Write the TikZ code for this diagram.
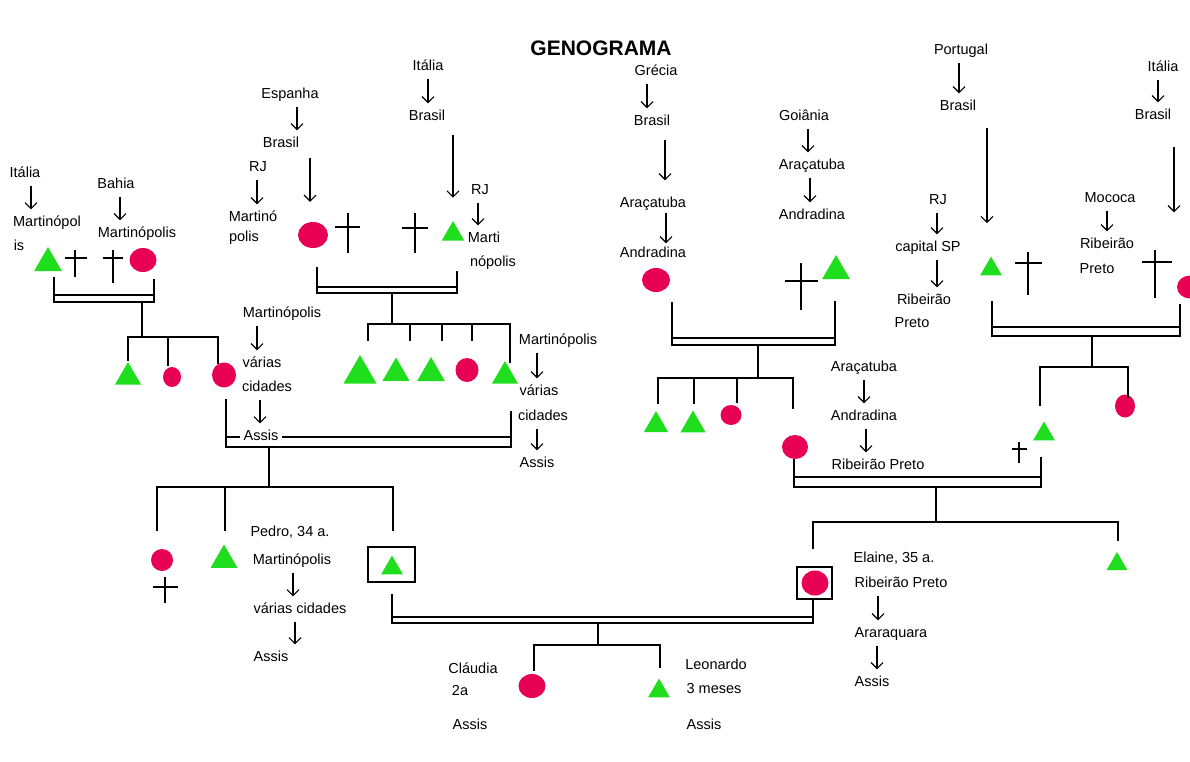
\documentclass[tikz,border=0pt]{standalone}
\usepackage{fontspec}
\setmainfont{Liberation Sans}
\usetikzlibrary{shapes.geometric,arrows.meta}
\definecolor{gr}{RGB}{30,222,30}
\definecolor{rd}{RGB}{232,0,85}
\newcommand\lblfont{\fontsize{14.5}{17}\selectfont}
\newcommand\arrv[4][]{\draw[arr,#1] ([xshift=#4]#2.south) -- ([xshift=#4]#2.south |- #3.north);}
\newcommand\gcross[6]{\draw[crossln] (#1,#2) -- (#1,#3) (#4,#6) -- (#5,#6);}
\begin{document}
\begin{tikzpicture}[x=1pt,y=-1pt,
  ln/.style={line width=1.6pt, line cap=rect},
  arr/.style={line width=1.1pt, -{Straight Barb[length=6pt,width=12pt]}, shorten <=4pt, shorten >=4pt},
  lbl/.style={font=\lblfont, inner sep=1.5pt, text height=11pt, text depth=3pt},
  lblw/.style={lbl, fill=white, inner xsep=4pt},
  circ/.style={ellipse, fill=rd, draw=none, inner sep=0pt},
  tri/.style={regular polygon, regular polygon sides=3, fill=gr, draw=none, inner sep=0pt, minimum size=#1},
  framebox/.style={draw, line width=1.4pt, inner sep=0pt},
  crossln/.style={line width=1.3pt}]
\useasboundingbox (0,0) rectangle (1190,761);
\clip (0,0) rectangle (1190,761);

% ---------- title
\node[font=\fontsize{21}{24}\selectfont\bfseries] (title) at (601,48) {GENOGRAMA};

% ---------- persons
\node[tri=32] (t1) at (48,263) {};
\node[circ, minimum width=27, minimum height=24] (c1) at (143,260) {};
\node[tri=30] (t2) at (128,377) {};
\node[circ, minimum width=18, minimum height=20] (c2) at (172,377) {};
\node[circ, minimum width=24, minimum height=25] (c3) at (224,375) {};
\node[circ, minimum width=30, minimum height=26] (c4) at (313,235) {};
\node[tri=26] (t7) at (453,234) {};
\node[tri=38] (t3) at (360,374) {};
\node[tri=31] (t4) at (396,373) {};
\node[tri=32] (t5) at (431,373) {};
\node[circ, minimum width=23, minimum height=24] (c5) at (467,370) {};
\node[tri=30] (t6) at (505,376) {};
\node[circ, minimum width=22, minimum height=22] (c6) at (162,560) {};
\node[tri=31] (t11) at (224,560) {};
\node[tri=25] (t12) at (392,568) {};
\node[framebox, minimum width=47, minimum height=35] (b1) at (391.5,564.5) {};
\node[circ, minimum width=27, minimum height=24] (c7) at (532,686) {};
\node[tri=25] (t13) at (659,691) {};
\node[circ, minimum width=27, minimum height=25] (c8) at (815,583) {};
\node[framebox, minimum width=35, minimum height=32] (b2) at (814.5,583) {};
\node[tri=24] (t14) at (1117,564) {};
\node[circ, minimum width=28, minimum height=24] (c9) at (656,280) {};
\node[tri=32] (t8) at (836,271) {};
\node[tri=28] (t9) at (656,425) {};
\node[tri=29] (t10) at (693,425) {};
\node[circ, minimum width=21, minimum height=20] (c10) at (731,415) {};
\node[circ, minimum width=26, minimum height=24] (c11) at (795,447) {};
\node[tri=25] (t15) at (991,269) {};
\node[circ, minimum width=20, minimum height=23] (c12) at (1125,406) {};
\node[circ, minimum width=26, minimum height=23] (c13) at (1190,287) {};
\node[tri=25] (t16) at (1044,434) {};

% ---------- family lines
% family A
\draw[ln] (54,278) -- (54,302) -- (154,302) -- (154,280);
\draw[ln] (54,295) -- (154,295);
\draw[ln] (142,302) -- (142,337);
\draw[ln] (128,360) -- (128,337) -- (218,337) -- (218,363);
\draw[ln] (168,337) -- (168,365);
% family B
\draw[ln] (317,268) -- (317,293) -- (457,293) -- (457,272);
\draw[ln] (317,287) -- (457,287);
\draw[ln] (392,293) -- (392,324);
\draw[ln] (368,340) -- (368,324) -- (510,324) -- (510,362);
\draw[ln] (410,324) -- (410,340);
\draw[ln] (442,324) -- (442,340);
\draw[ln] (472,324) -- (472,340);
% Pedro's parents
\draw[ln] (226,400) -- (226,447) -- (511,447) -- (511,412);
\draw[ln] (226,437) -- (511,437);
\draw[ln] (269,447) -- (269,487);
\draw[ln] (157,530) -- (157,487) -- (393,487) -- (393,530);
\draw[ln] (225,487) -- (225,530);
% Pedro - Elaine
\draw[ln] (392,595) -- (392,623) -- (813,623) -- (813,599);
\draw[ln] (392,617) -- (813,617);
\draw[ln] (598,623) -- (598,645);
\draw[ln] (534,670) -- (534,645) -- (660,645) -- (660,667);
% Elaine's siblings
\draw[ln] (936,487) -- (936,522);
\draw[ln] (813,548) -- (813,522) -- (1118,522) -- (1118,540);
% family D
\draw[ln] (672,303) -- (672,345) -- (835,345) -- (835,302);
\draw[ln] (672,338) -- (835,338);
\draw[ln] (758,345) -- (758,378);
\draw[ln] (658,403) -- (658,378) -- (793,378) -- (793,408);
\draw[ln] (694,378) -- (694,403);
\draw[ln] (737,378) -- (737,402);
% Elaine's parents
\draw[ln] (794,460) -- (794,487) -- (1041,487) -- (1041,458);
\draw[ln] (794,477) -- (1041,477);
% family E
\draw[ln] (992,302) -- (992,336) -- (1180,336) -- (1180,305);
\draw[ln] (992,327) -- (1180,327);
\draw[ln] (1092,336) -- (1092,367);
\draw[ln] (1040,405) -- (1040,367) -- (1128,367) -- (1128,397);

% ---------- crosses (deceased)
\gcross{75}{250}{277}{65}{87}{258}
\gcross{113}{250}{283}{103}{123}{258}
\gcross{348}{213}{253}{335}{360}{227}
\gcross{415}{213}{253}{402}{428}{228}
\gcross{801}{263}{310}{785}{818}{281}
\gcross{1028}{252}{295}{1015}{1042}{263}
\gcross{1155}{250}{298}{1142}{1172}{262}
\gcross{1019}{442}{463}{1012}{1027}{449}
\gcross{165}{577}{603}{153}{178}{587}

% ---------- labels
\node[lbl] (L1) at (25,173) {Itália};
\node[lbl] (L2) at (47,222) {Martinópol};
\node[lbl] (L3) at (19,246) {is};
\node[lbl] (L4) at (116,184) {Bahia};
\node[lbl] (L5) at (137,233) {Martinópolis};
\node[lbl] (L6) at (290,94) {Espanha};
\node[lbl] (L7) at (281,143) {Brasil};
\node[lbl] (L8) at (258,167) {RJ};
\node[lbl] (L9) at (253,217) {Martinó};
\node[lbl] (L10) at (244,237) {polis};
\node[lbl] (L11) at (428,66) {Itália};
\node[lbl] (L12) at (427,116) {Brasil};
\node[lbl] (L13) at (480,190) {RJ};
\node[lbl] (L14) at (484,238) {Marti};
\node[lbl] (L15) at (493,262) {nópolis};
\node[lbl] (L16) at (282,313) {Martinópolis};
\node[lbl] (L17) at (262,363) {várias};
\node[lbl] (L18) at (267,387) {cidades};
\node[lblw] (L19) at (261,436) {Assis};
\node[lbl] (L20) at (558,340) {Martinópolis};
\node[lbl] (L21) at (539,391) {várias};
\node[lbl] (L22) at (543,416) {cidades};
\node[lbl] (L23) at (537,463) {Assis};
\node[lbl] (L24) at (290,532) {Pedro, 34 a.};
\node[lbl] (L25) at (292,560) {Martinópolis};
\node[lbl] (L26) at (300,609) {várias cidades};
\node[lbl] (L27) at (271,657) {Assis};
\node[lbl] (L28) at (473,669) {Cláudia};
\node[lbl] (L29) at (460,691) {2a};
\node[lbl] (L30) at (470,725) {Assis};
\node[lbl] (L31) at (716,665) {Leonardo};
\node[lbl] (L32) at (714,689) {3 meses};
\node[lbl] (L33) at (704,725) {Assis};
\node[lbl] (L34) at (894,558) {Elaine, 35 a.};
\node[lbl] (L35) at (901,583) {Ribeirão Preto};
\node[lbl] (L36) at (891,633) {Araraquara};
\node[lbl] (L37) at (872,682) {Assis};
\node[lbl] (L38) at (656,71) {Grécia};
\node[lbl] (L39) at (652,121) {Brasil};
\node[lbl] (L40) at (653,203) {Araçatuba};
\node[lbl] (L41) at (653,253) {Andradina};
\node[lbl] (L42) at (804,116) {Goiânia};
\node[lbl] (L43) at (812,165) {Araçatuba};
\node[lbl] (L44) at (812,215) {Andradina};
\node[lbl] (L45) at (864,367) {Araçatuba};
\node[lbl] (L46) at (864,416) {Andradina};
\node[lblw] (L47) at (878,465) {Ribeirão Preto};
\node[lbl] (L48) at (961,50) {Portugal};
\node[lbl] (L49) at (958,106) {Brasil};
\node[lbl] (L50) at (938,200) {RJ};
\node[lbl] (L51) at (928,247) {capital SP};
\node[lbl] (L52) at (924,300) {Ribeirão};
\node[lbl] (L53) at (912,323) {Preto};
\node[lbl] (L54) at (1163,67) {Itália};
\node[lbl] (L55) at (1153,115) {Brasil};
\node[lbl] (L56) at (1110,198) {Mococa};
\node[lbl] (L57) at (1107,244) {Ribeirão};
\node[lbl] (L58) at (1097,269) {Preto};

% ---------- migration arrows
\arrv{L1}{L2}{6}
\arrv{L4}{L5}{4}
\arrv{L6}{L7}{7}
\arrv{L8}{L9}{-1}
\arrv[shorten <=6pt, shorten >=20pt]{L7}{c4}{29}
\arrv{L11}{L12}{0}
\arrv[shorten <=10pt, shorten >=23pt]{L12}{t7}{26}
\arrv{L13}{L14}{-2}
\arrv{L16}{L17}{-25}
\arrv{L18}{L19}{-7}
\arrv{L20}{L21}{-21}
\arrv{L22}{L23}{-6}
\arrv{L25}{L26}{1}
\arrv{L26}{L27}{-5}
\arrv{L35}{L36}{-23}
\arrv{L36}{L37}{-14}
\arrv{L38}{L39}{-9}
\arrv[shorten <=10pt, shorten >=14pt]{L39}{L40}{13}
\arrv[shorten <=1pt, shorten >=1pt]{L40}{L41}{13}
\arrv{L42}{L43}{4}
\arrv{L43}{L44}{-2}
\arrv{L45}{L46}{0}
\arrv{L46}{L47}{2}
\arrv{L48}{L49}{-2}
\arrv[shorten <=13pt, shorten >=33pt]{L49}{t15}{29}
\arrv{L50}{L51}{-1}
\arrv{L51}{L52}{9}
\arrv{L54}{L55}{-5}
\arrv[shorten <=23pt, shorten >=63pt]{L55}{c13}{21}
\arrv{L56}{L57}{-3}
\end{tikzpicture}
\end{document}
